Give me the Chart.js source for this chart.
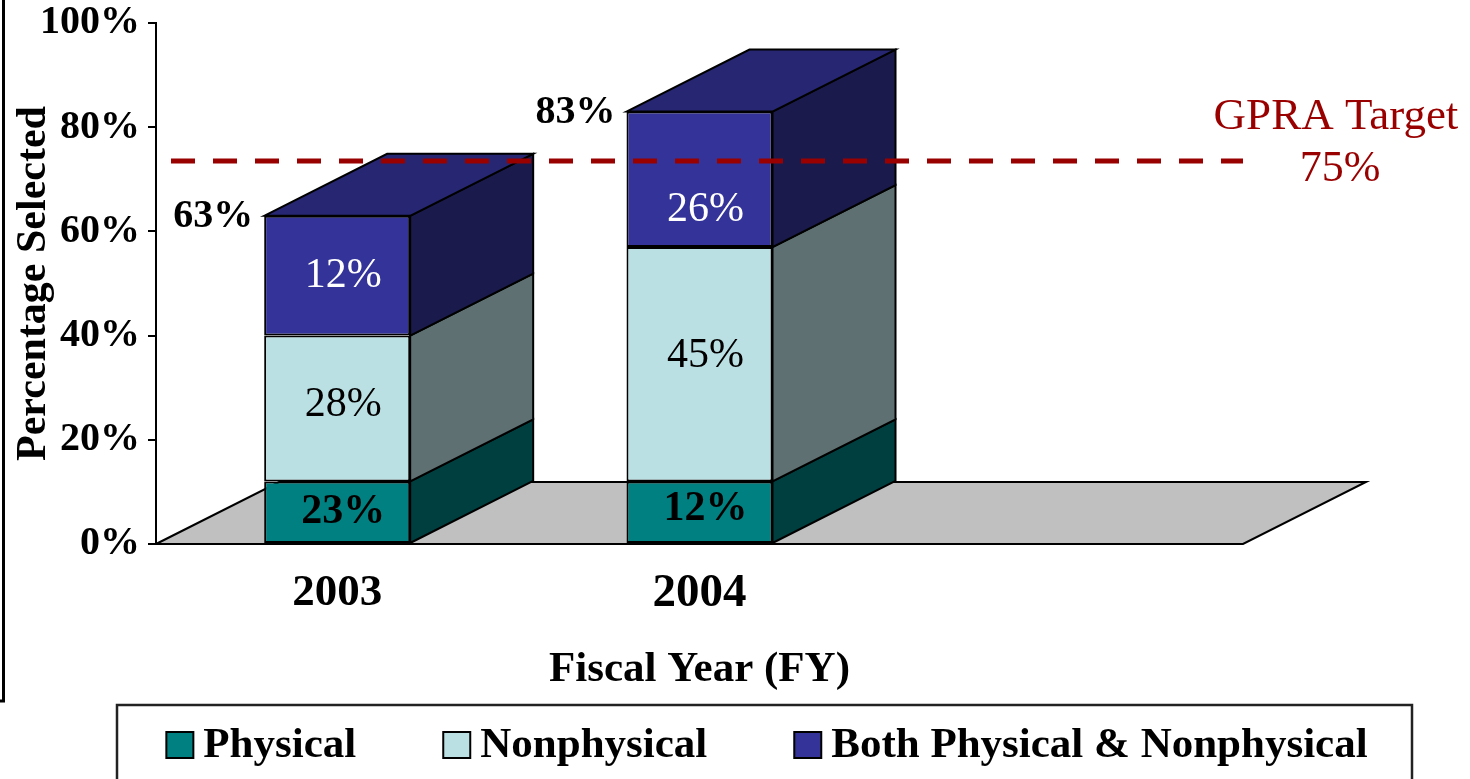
<!DOCTYPE html>
<html><head><meta charset="utf-8">
<script src="https://cdn.jsdelivr.net/npm/chart.js@4/dist/chart.umd.min.js"></script>
<style>html,body{margin:0;padding:0;background:#fff;overflow:hidden}#wrap{position:relative;width:1470px;height:779px}canvas{display:block}</style>
</head><body><div id="wrap"><canvas id="c" width="1470" height="779"></canvas></div>
<script>
// ---- data ----
const categories = ['2003', '2004', ''];
const seriesNames = ['Physical', 'Nonphysical', 'Both Physical & Nonphysical'];
const physical = [12, 12, null];
const nonphysical = [28, 45, null];
const both = [23, 26, null];
const physicalLabels = ['23%', '12%'];
const nonphysicalLabels = ['28%', '45%'];
const bothLabels = ['12%', '26%'];
const totalLabels = ['63%', '83%'];
const yTickValues = [0, 20, 40, 60, 80, 100];
const targetValue = 73.5;
const targetLabels = ['GPRA Target', '75%'];

// ---- styles ----
const FONT = '"Liberation Serif", "Times New Roman", serif';
const FRONT = ['#008080', '#BBE0E3', '#333399'];
const SIDE = ['#003F3F', '#5E7071', '#1A1A4C'];
const TOPC = '#262673';
const DX = 123, DY = -62;
const segLabels = [physicalLabels, nonphysicalLabels, bothLabels];
const segLabelStyle = [
  {weight: 'bold', color: '#000'},
  {weight: 'normal', color: '#000'},
  {weight: 'normal', color: '#fff'}
];
const segNudge = [[0, -3], [-4, -8], [0, 31]]; // [dataset][bar] vertical nudge

function poly(ctx, pts, fill) {
  ctx.beginPath();
  ctx.moveTo(pts[0][0], pts[0][1]);
  for (let k = 1; k < pts.length; k++) ctx.lineTo(pts[k][0], pts[k][1]);
  ctx.closePath();
  ctx.fillStyle = fill; ctx.fill();
  ctx.lineWidth = 2; ctx.strokeStyle = '#000'; ctx.lineJoin = 'miter'; ctx.stroke();
}

const threeD = {
  id: 'threeD',
  beforeDatasetsDraw(chart) {
    const {ctx, chartArea: ca, scales: {y}} = chart;
    const y0 = y.getPixelForValue(0);
    ctx.save();
    poly(ctx, [[ca.left, y0], [ca.left + DX, y0 + DY], [ca.right + DX, y0 + DY], [ca.right, y0]], '#C0C0C0');
    chart.data.datasets.forEach((ds, di) => {
      const meta = chart.getDatasetMeta(di);
      meta.data.forEach((el, i) => {
        if (ds.data[i] == null) return;
        const p = el.getProps(['x', 'y', 'base', 'width'], true);
        const l = p.x - p.width / 2, r = p.x + p.width / 2;
        const top = Math.min(p.y, p.base), bot = Math.max(p.y, p.base);
        poly(ctx, [[r, bot], [r + DX, bot + DY], [r + DX, top + DY], [r, top]], SIDE[di]);
        if (di === chart.data.datasets.length - 1) {
          poly(ctx, [[l, top], [l + DX, top + DY], [r + DX, top + DY], [r, top]], TOPC);
        }
      });
    });
    ctx.restore();
  },
  afterDatasetsDraw(chart) {
    const {ctx, chartArea: ca, scales: {y}} = chart;
    ctx.save();
    ctx.textAlign = 'center'; ctx.textBaseline = 'middle';
    chart.data.datasets.forEach((ds, di) => {
      const meta = chart.getDatasetMeta(di);
      meta.data.forEach((el, i) => {
        if (ds.data[i] == null) return;
        const p = el.getProps(['x', 'y', 'base', 'width'], true);
        const st = segLabelStyle[di];
        ctx.font = st.weight + ' 42px ' + FONT;
        ctx.fillStyle = st.color;
        ctx.fillText(segLabels[di][i], p.x + 6, (p.y + p.base) / 2 + segNudge[di][i]);
      });
    });
    // totals
    const topMeta = chart.getDatasetMeta(chart.data.datasets.length - 1);
    ctx.font = 'bold 40px ' + FONT; ctx.fillStyle = '#000'; ctx.textAlign = 'right';
    topMeta.data.forEach((el, i) => {
      if (totalLabels[i] == null) return;
      const p = el.getProps(['x', 'y', 'width'], true);
      ctx.fillText(totalLabels[i], p.x - p.width / 2 - 11, p.y + 1);
    });
    // target line
    const ty = y.getPixelForValue(targetValue);
    ctx.beginPath();
    ctx.setLineDash([24, 18]);
    ctx.lineWidth = 5; ctx.strokeStyle = '#990000'; ctx.lineCap = 'butt';
    ctx.moveTo(ca.left + 15, ty); ctx.lineTo(ca.right, ty); ctx.stroke();
    ctx.setLineDash([]);
    ctx.fillStyle = '#990000'; ctx.textAlign = 'center';
    ctx.font = 'normal 45px ' + FONT;
    ctx.fillText(targetLabels[0], ca.right + 93, ty - 44);
    ctx.font = 'normal 44px ' + FONT;
    ctx.fillText(targetLabels[1], ca.right + 97, ty + 8);
    ctx.restore();
  },
  afterDraw(chart) {
    const {ctx} = chart;
    ctx.save();
    // outer frame stub
    ctx.beginPath();
    ctx.lineWidth = 3; ctx.strokeStyle = '#000';
    ctx.moveTo(3.5, 0); ctx.lineTo(3.5, 701); ctx.lineTo(0, 701); ctx.stroke();
    // legend box
    ctx.lineWidth = 2.5; ctx.strokeStyle = '#222';
    ctx.strokeRect(117, 705, 1295, 120);
    ctx.font = 'bold 43px ' + FONT;
    const box = 27, gapT = 10, spacing = 87;
    const widths = seriesNames.map(n => ctx.measureText(n).width);
    const total = widths.reduce((s, w) => s + box + gapT + w, 0) + spacing * (seriesNames.length - 1);
    let x = 767 - total / 2;
    const cy = 745;
    ctx.textAlign = 'left'; ctx.textBaseline = 'middle';
    seriesNames.forEach((n, i) => {
      ctx.fillStyle = FRONT[i];
      ctx.fillRect(x, cy - 13, box, 26);
      ctx.lineWidth = 2; ctx.strokeStyle = '#000';
      ctx.strokeRect(x, cy - 13, box, 26);
      ctx.fillStyle = '#000';
      ctx.fillText(n, x + box + gapT, cy + 1);
      x += box + gapT + widths[i] + spacing;
    });
    ctx.restore();
  }
};

new Chart(document.getElementById('c'), {
  type: 'bar',
  data: {
    labels: categories,
    datasets: [
      {label: seriesNames[0], data: physical, backgroundColor: FRONT[0]},
      {label: seriesNames[1], data: nonphysical, backgroundColor: FRONT[1]},
      {label: seriesNames[2], data: both, backgroundColor: FRONT[2]}
    ].map(d => Object.assign(d, {borderColor: '#000', borderWidth: 2, borderSkipped: false,
      categoryPercentage: 1, barPercentage: 0.403}))
  },
  options: {
    responsive: false, devicePixelRatio: 1, animation: false, events: [],
    layout: {padding: {top: 23, right: 227, left: 0, bottom: 79}},
    plugins: {legend: {display: false}, tooltip: {enabled: false}},
    scales: {
      x: {
        stacked: true,
        grid: {display: false, drawTicks: false},
        border: {display: false},
        ticks: {color: '#000', font: (c) => ({family: FONT, size: c.index === 1 ? 47 : 45, weight: 'bold'}), padding: 22, maxRotation: 0},
        title: {display: true, text: 'Fiscal Year (FY)', color: '#000',
          font: {family: FONT, size: 43, weight: 'bold'}, padding: {top: 0, bottom: 4}},
        afterFit(s) { s.height = 156; }
      },
      y: {
        stacked: true, min: 0, max: 100,
        afterBuildTicks(s) { s.ticks = yTickValues.map(v => ({value: v})); },
        grid: {drawOnChartArea: false, drawTicks: true, tickLength: 8, color: '#000', lineWidth: 2},
        border: {display: true, color: '#000', width: 2},
        ticks: {color: '#000', padding: 8, font: {family: FONT, size: 40, weight: 'bold', lineHeight: 0.7},
          callback: v => v + '%'},
        title: {display: true, text: 'Percentage Selected', color: '#000',
          font: {family: FONT, size: 42, weight: 'bold'}, padding: {top: 9, bottom: 0}},
        afterFit(s) { s.width = 156; }
      }
    }
  },
  plugins: [threeD]
});
</script></body></html>
